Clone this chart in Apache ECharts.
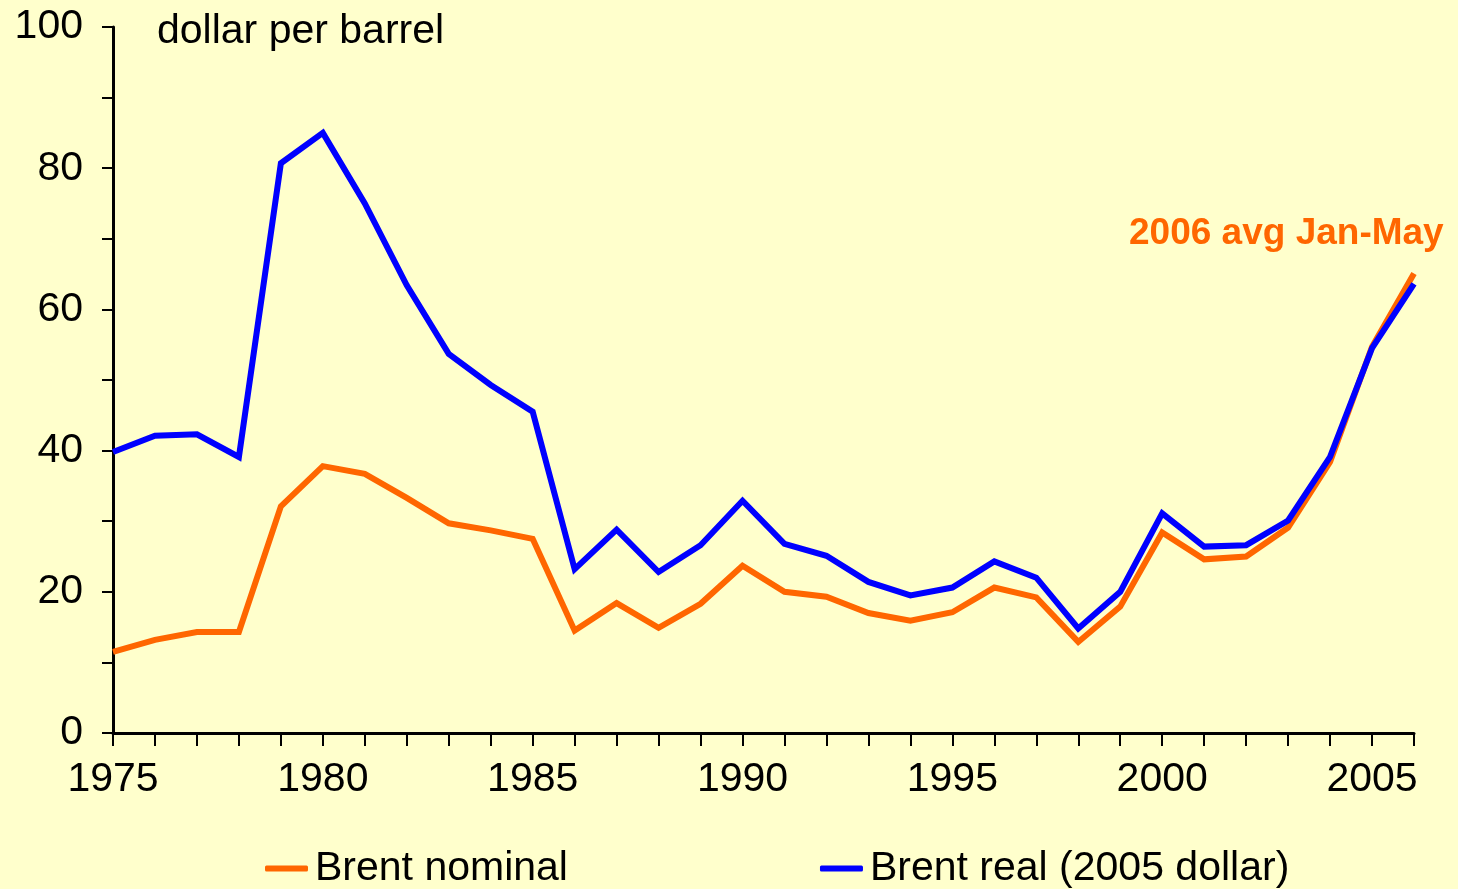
<!DOCTYPE html>
<html>
<head>
<meta charset="utf-8">
<script src="https://cdn.jsdelivr.net/npm/echarts@6/dist/echarts.min.js"></script>
<style>
html,body{margin:0;padding:0;background:#FFFFCC;}
#chart{width:1458px;height:889px;}
</style>
</head>
<body>
<div id="chart"></div>
<script>
const years = [1975,1976,1977,1978,1979,1980,1981,1982,1983,1984,1985,1986,1987,1988,1989,1990,1991,1992,1993,1994,1995,1996,1997,1998,1999,2000,2001,2002,2003,2004,2005,2006];
const brentNominal = [11.5,13.2,14.3,14.3,32.1,37.8,36.7,33.3,29.7,28.7,27.5,14.5,18.4,14.9,18.3,23.7,20.0,19.3,17.0,15.9,17.1,20.6,19.2,12.9,17.9,28.4,24.6,25.0,29.1,38.4,54.7,65.1];
const brentReal = [39.8,42.1,42.3,39.1,80.7,85.0,75.0,63.4,53.7,49.3,45.5,23.2,28.8,22.8,26.6,32.9,26.8,25.1,21.4,19.5,20.6,24.3,22.0,14.8,20.0,31.1,26.4,26.6,30.1,39.1,54.5,63.6];
const seriesNames = ['Brent nominal', 'Brent real (2005 dollar)'];
const unitLabel = 'dollar per barrel';
const annotation = '2006 avg Jan-May';

const FONT = "'Liberation Sans', Arial, sans-serif";
const chart = echarts.init(document.getElementById('chart'));
chart.setOption({
  backgroundColor: '#FFFFCC',
  animation: false,
  grid: {left: 113, right: 44, top: 27, bottom: 156, containLabel: false},
  xAxis: {
    type: 'value', min: 1975, max: 2006, interval: 1,
    axisLine: {lineStyle: {color: '#000', width: 3}},
    axisTick: {show: true, length: 13, lineStyle: {color: '#000', width: 2}},
    splitLine: {show: false},
    axisLabel: {
      margin: 26, color: '#000', fontSize: 41, fontFamily: FONT,
      formatter: v => (v % 5 === 0 ? String(v) : '')
    }
  },
  yAxis: {
    type: 'value', min: 0, max: 100, interval: 10,
    axisLine: {show: true, lineStyle: {color: '#000', width: 3}},
    axisTick: {show: true, length: 11, lineStyle: {color: '#000', width: 2}},
    splitLine: {show: false},
    axisLabel: {
      margin: 30, color: '#000', fontSize: 41, fontFamily: FONT,
      formatter: v => (v % 20 === 0 ? String(v) : '')
    }
  },
  legend: {
    left: 265, top: 848, padding: 0, itemGap: 252, itemWidth: 43, itemHeight: 6,
    icon: 'roundRect',
    textStyle: {color: '#000', fontSize: 41, fontFamily: FONT, padding: [0,0,0,2]},
    data: seriesNames
  },
  graphic: [
    {type: 'text', left: 157, top: 11, style: {text: unitLabel, fill: '#000', font: "41px 'Liberation Sans', Arial, sans-serif"}},
    {type: 'text', left: 1129, top: 215, style: {text: annotation, fill: '#FF6600', font: "bold 37px 'Liberation Sans', Arial, sans-serif"}}
  ],
  series: [
    {
      name: seriesNames[0], type: 'line', showSymbol: false, symbol: 'none',
      data: years.map((y, i) => [y, brentNominal[i]]),
      lineStyle: {color: '#FF6600', width: 6, join: 'miter'},
      itemStyle: {color: '#FF6600'}
    },
    {
      name: seriesNames[1], type: 'line', showSymbol: false, symbol: 'none',
      data: years.map((y, i) => [y, brentReal[i]]),
      lineStyle: {color: '#0000FF', width: 6, join: 'miter'},
      itemStyle: {color: '#0000FF'}
    }
  ]
});
</script>
</body>
</html>
